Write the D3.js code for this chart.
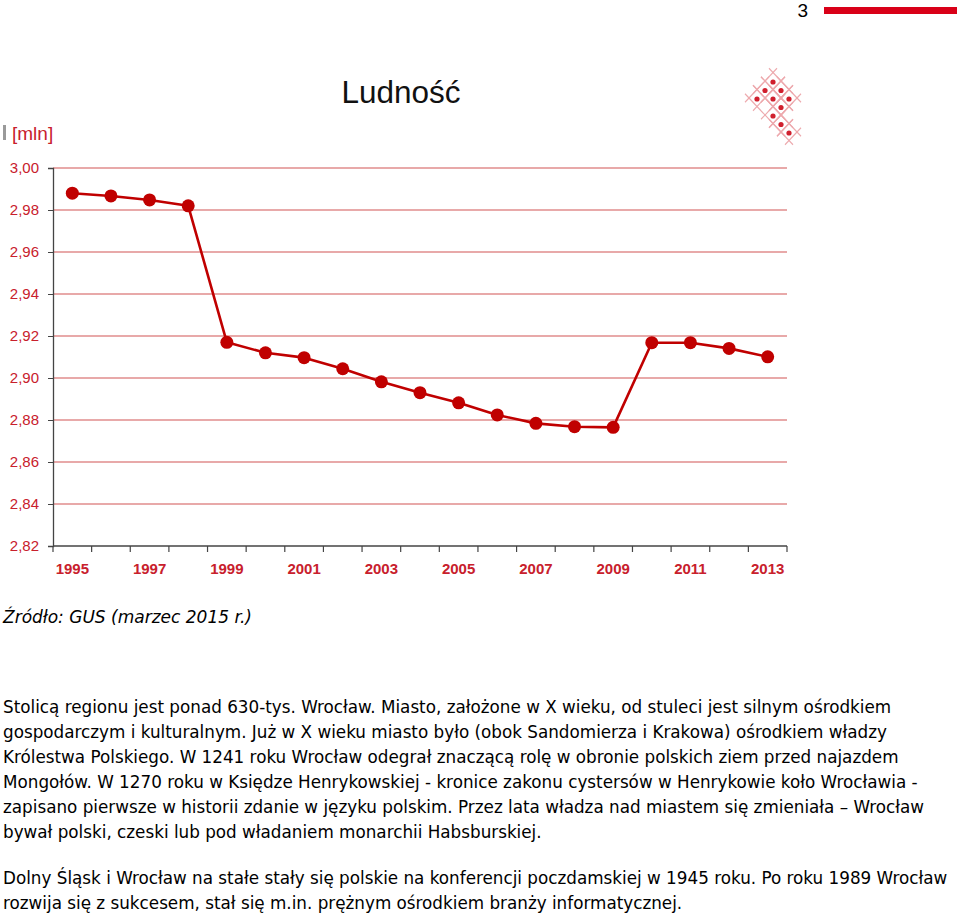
<!DOCTYPE html>
<html><head><meta charset="utf-8">
<script src="https://cdn.jsdelivr.net/npm/d3@7/dist/d3.min.js"></script>
<style>
body{margin:0;background:#fff}
svg{display:block}
</style>
</head><body>
<script>
// ---- data ----
const years = [1995,1996,1997,1998,1999,2000,2001,2002,2003,2004,2005,2006,2007,2008,2009,2010,2011,2012,2013];
const population = [2.9880,2.9867,2.9848,2.9820,2.9170,2.9120,2.9097,2.9044,2.8982,2.8930,2.8882,2.8824,2.8784,2.8768,2.8765,2.9168,2.9168,2.9141,2.9101];
const yTicks = [2.82,2.84,2.86,2.88,2.90,2.92,2.94,2.96,2.98,3.00];
const xTickLabels = [1995,1997,1999,2001,2003,2005,2007,2009,2011,2013];
const title = "Ludność";
const unitLabel = "[mln]";
const sourceNote = "Źródło: GUS (marzec 2015 r.)";
const pageNumber = "3";
const paragraph1 = [
 "Stolicą regionu jest ponad 630-tys. Wrocław. Miasto, założone w X wieku, od stuleci jest silnym ośrodkiem",
 "gospodarczym i kulturalnym. Już w X wieku miasto było (obok Sandomierza i Krakowa) ośrodkiem władzy",
 "Królestwa Polskiego. W 1241 roku Wrocław odegrał znaczącą rolę w obronie polskich ziem przed najazdem",
 "Mongołów. W 1270 roku w Księdze Henrykowskiej - kronice zakonu cystersów w Henrykowie koło Wrocławia -",
 "zapisano pierwsze w historii zdanie w języku polskim. Przez lata władza nad miastem się zmieniała – Wrocław",
 "bywał polski, czeski lub pod władaniem monarchii Habsburskiej."
];
const paragraph2 = [
 "Dolny Śląsk i Wrocław na stałe stały się polskie na konferencji poczdamskiej w 1945 roku. Po roku 1989 Wrocław",
 "rozwija się z sukcesem, stał się m.in. prężnym ośrodkiem branży informatycznej."
];
// logo lattice (column, row) indices
const logoDots = [[0,0],[-1,1],[1,1],[-2,2],[0,2],[2,2],[1,3],[0,4],[1,5],[2,6]];

// ---- drawing ----
const W = 960, H = 915;
const svg = d3.select("body").append("svg").attr("width", W).attr("height", H);

const red = "#c00000";
const labelRed = "#c8202c";
const x = d3.scaleBand().domain(years).range([53, 787]).padding(0);
const y = d3.scaleLinear().domain([2.82, 3.00]).range([546, 168]);

// header
svg.append("text").attr("x", 808).attr("y", 17).attr("text-anchor", "end")
  .attr("font-family", "Liberation Sans, Arial, sans-serif").attr("font-size", 19).attr("fill", "#000").text(pageNumber);
svg.append("rect").attr("x", 824).attr("y", 7).attr("width", 133).attr("height", 7).attr("fill", "#d90018");

// title
svg.append("text").attr("x", 401).attr("y", 103).attr("text-anchor", "middle")
  .attr("font-family", "Liberation Sans, Arial, sans-serif").attr("font-size", 31).attr("fill", "#111")
  .attr("textLength", 119).attr("lengthAdjust", "spacingAndGlyphs").text(title);

// logo
const lg = svg.append("g").attr("transform", "translate(773,81)");
const dx = 8, dy = 8.5;
logoDots.forEach(([i, j]) => {
  const cx = i * dx, cy = j * dy;
  const pts = [[cx - dx, cy], [cx, cy - dy], [cx + dx, cy], [cx, cy + dy]];
  for (let k = 0; k < 4; k++) {
    const a = pts[k], b = pts[(k + 1) % 4];
    const vx = b[0] - a[0], vy = b[1] - a[1];
    lg.append("line")
      .attr("x1", a[0] - vx * 0.5).attr("y1", a[1] - vy * 0.5)
      .attr("x2", b[0] + vx * 0.5).attr("y2", b[1] + vy * 0.5)
      .attr("stroke", "#eda9ad").attr("stroke-width", 1.1);
  }
});
logoDots.forEach(([i, j]) => {
  lg.append("circle").attr("cx", i * dx).attr("cy", j * dy + 1).attr("r", 2.6).attr("fill", "#d0202e");
});

// unit label
svg.append("rect").attr("x", 3).attr("y", 125).attr("width", 3).attr("height", 15).attr("fill", "#9a9a9a");
svg.append("text").attr("x", 12).attr("y", 140)
  .attr("font-family", "Liberation Sans, Arial, sans-serif").attr("font-size", 19).attr("fill", labelRed).text(unitLabel);

// gridlines
svg.append("g").selectAll("line").data(yTicks.filter(d => d > 2.82)).join("line")
  .attr("x1", 53).attr("x2", 787).attr("y1", d => y(d)).attr("y2", d => y(d))
  .attr("stroke", "#e08c8c").attr("stroke-width", 1.3);

// y axis
const yAxis = svg.append("g").attr("transform", "translate(53,0)")
  .call(d3.axisLeft(y).tickValues(yTicks).tickSize(5).tickPadding(9)
    .tickFormat(d => d3.format(".2f")(d).replace(".", ",")));
yAxis.select(".domain").attr("stroke", "#444").attr("stroke-width", 1.3);
yAxis.selectAll(".tick line").attr("stroke", "#444");
yAxis.selectAll("text").attr("font-family", "Liberation Sans, Arial, sans-serif").attr("font-size", 15).attr("fill", labelRed);

// x axis
const xg = svg.append("g");
xg.append("line").attr("x1", 53).attr("x2", 787).attr("y1", 546).attr("y2", 546).attr("stroke", "#444").attr("stroke-width", 1.3);
const boundaries = years.map(d => x(d)).concat([x(years[years.length - 1]) + x.bandwidth()]);
xg.selectAll("line.t").data(boundaries).join("line").attr("class", "t")
  .attr("x1", d => d).attr("x2", d => d).attr("y1", 546).attr("y2", 552)
  .attr("stroke", "#444").attr("stroke-width", 1.2);
xg.selectAll("text").data(xTickLabels).join("text")
  .attr("x", d => x(d) + x.bandwidth() / 2).attr("y", 574).attr("text-anchor", "middle")
  .attr("font-family", "Liberation Sans, Arial, sans-serif").attr("font-size", 15).attr("font-weight", "bold")
  .attr("fill", labelRed).text(d => d);

// line + points
const line = d3.line().x((d, i) => x(years[i]) + x.bandwidth() / 2).y(d => y(d));
svg.append("path").datum(population).attr("d", line)
  .attr("fill", "none").attr("stroke", red).attr("stroke-width", 2.6).attr("stroke-linejoin", "round");
svg.append("g").selectAll("circle").data(population).join("circle")
  .attr("cx", (d, i) => x(years[i]) + x.bandwidth() / 2).attr("cy", d => y(d))
  .attr("r", 6.5).attr("fill", red);

// source
svg.append("text").attr("x", 3).attr("y", 623)
  .attr("font-family", "DejaVu Sans, sans-serif").attr("font-style", "italic")
  .attr("font-size", 17).attr("fill", "#000").text(sourceNote);

// paragraphs
const bodyFont = "DejaVu Sans, sans-serif";
paragraph1.forEach((t, i) => {
  svg.append("text").attr("x", 3).attr("y", 713 + i * 25)
    .attr("font-family", bodyFont).attr("font-size", 16.8).attr("fill", "#000").text(t);
});
paragraph2.forEach((t, i) => {
  svg.append("text").attr("x", 3).attr("y", 884 + i * 25)
    .attr("font-family", bodyFont).attr("font-size", 16.8).attr("fill", "#000").text(t);
});
</script>
</body></html>
